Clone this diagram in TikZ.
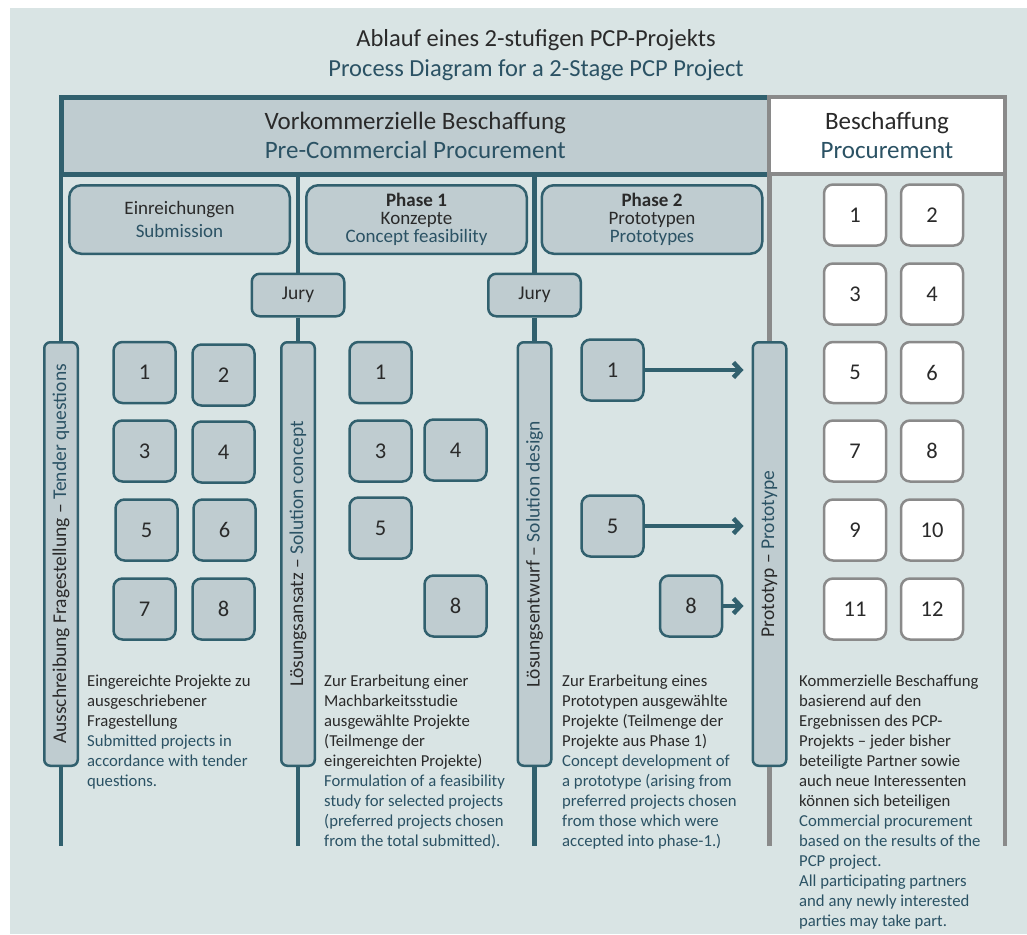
\documentclass[tikz,border=0pt]{standalone}
\usepackage{fontspec}
\setmainfont{Carlito}
\usepackage{graphicx}
\usepackage{xcolor}
\definecolor{PanelBg}{HTML}{D9E4E4}
\definecolor{FrameTeal}{HTML}{31606E}
\definecolor{BoxFill}{HTML}{BFCCD0}
\definecolor{FrameGrey}{HTML}{8A8A8A}
\definecolor{TextDark}{HTML}{2A2A2A}
\definecolor{TextTeal}{HTML}{2B5264}
\newcommand{\entext}{\color{TextTeal}}
\usetikzlibrary{arrows.meta, positioning}
\tikzset{
  % Box styles
  headbox/.style={rectangle, draw=FrameTeal, line width=5pt, fill=BoxFill, outer sep=0pt, minimum width=707.5pt, minimum height=77pt, align=center, text=TextDark, font=\fontsize{25}{29}\selectfont},
  procheadbox/.style={rectangle, draw=FrameGrey, line width=4pt, fill=white, outer sep=0pt, minimum width=236pt, minimum height=77pt, align=center, text=TextDark, font=\fontsize{25}{29}\selectfont},
  phasebox/.style={rectangle, rounded corners=12pt, draw=FrameTeal, line width=2.5pt, fill=BoxFill, minimum width=220.5pt, minimum height=68.5pt, align=center, text=TextDark, font=\fontsize{19}{18}\selectfont},
  jurybox/.style={rectangle, rounded corners=8pt, draw=FrameTeal, line width=2.5pt, fill=BoxFill, minimum width=92.5pt, minimum height=42.5pt, text=TextDark, font=\fontsize{19.5}{22}\selectfont},
  barbox/.style={rectangle, rounded corners=6pt, draw=FrameTeal, line width=2.5pt, fill=BoxFill, minimum width=33.5pt, minimum height=423.5pt, inner sep=0pt, text=TextDark, font=\fontsize{19.5}{22}\selectfont},
  numbox/.style={rectangle, rounded corners=9pt, draw=FrameTeal, line width=2.5pt, fill=BoxFill, minimum width=62pt, minimum height=61pt, text=TextDark, font=\fontsize{22.5}{25}\selectfont},
  procbox/.style={numbox, draw=FrameGrey, fill=white},
  notetext/.style={anchor=north west, align=left, inner sep=0pt, text=TextDark, font=\fontsize{16.7}{20}\selectfont},
  titletext/.style={align=center, text=TextDark, font=\fontsize{24.5}{30}\selectfont},
  % Line styles
  trunk/.style={draw=FrameTeal, line width=4.5pt},
  greytrunk/.style={draw=FrameGrey, line width=4.5pt},
  flowarrow/.style={-{Straight Barb[length=7pt, width=15pt]}, draw=FrameTeal, line width=4.5pt}
}

\begin{document}
\begin{tikzpicture}[x=1pt, y=-1pt]
  \useasboundingbox (0,0) rectangle (1027,934);
  % Panel background
  \fill[PanelBg] (10,8) rectangle (1027,934);

  % Title
  \node[titletext] (title) at (536,55) {Ablauf eines 2-stufigen PCP-Projekts\\\entext Process Diagram for a 2-Stage PCP Project};

  % Header bar
  \node[headbox] (pcp) at (415.25,135.5) {Vorkommerzielle Beschaffung\\\entext Pre-Commercial Procurement};
  \node[procheadbox] (proc) at (887,135.5) {Beschaffung\\\entext Procurement};

  % Phase headers
  \node[phasebox, font=\fontsize{19}{23}\selectfont] (submit) at (179.5,219.5) {Einreichungen\\\entext Submission};
  \node[phasebox] (phaseone) at (416.5,219.5) {\textbf{Phase 1}\\Konzepte\\\entext Concept feasibility};
  \node[phasebox] (phasetwo) at (652,219.5) {\textbf{Phase 2}\\Prototypen\\\entext Prototypes};

  % Jury
  \node[jurybox] (juryone) at (298,295) {Jury};
  \node[jurybox] (jurytwo) at (534.5,295) {Jury};

  % Stage bars
  \node[barbox] (tender) at (61,554) {\rotatebox{90}{Ausschreibung Fragestellung -- \entext Tender questions}};
  \node[barbox] (concept) at (298,554) {\rotatebox{90}{Lösungsansatz -- \entext Solution concept}};
  \node[barbox] (design) at (534.5,554) {\rotatebox{90}{Lösungsentwurf -- \entext Solution design}};
  \node[barbox] (proto) at (769.5,554) {\rotatebox{90}{Prototyp -- \entext Prototype}};

  % Frame lines
  \coordinate (base) at (0,846);
  \draw[trunk] (tender.north |- pcp.south) -- (tender.north);
  \draw[trunk] (tender.south) -- (tender.south |- base);
  \draw[trunk] (juryone.north |- pcp.south) -- (juryone.north);
  \draw[trunk] (juryone.south) -- (concept.north);
  \draw[trunk] (concept.south) -- (concept.south |- base);
  \draw[trunk] (jurytwo.north |- pcp.south) -- (jurytwo.north);
  \draw[trunk] (jurytwo.south) -- (design.north);
  \draw[trunk] (design.south) -- (design.south |- base);
  \draw[greytrunk] (proto.north |- proc.south) -- (proto.north);
  \draw[greytrunk] (proto.south) -- (proto.south |- base);
  \draw[greytrunk] (proc.south east) -- (proc.south east |- base);

  % Submitted projects
  \node[numbox] (s1) at (144.5,372.5) {1};
  \node[numbox] (s2) at (223.5,375) {2};
  \node[numbox] (s3) at (144.5,451) {3};
  \node[numbox] (s4) at (223.5,452) {4};
  \node[numbox] (s5) at (146.5,530) {5};
  \node[numbox] (s6) at (224.5,530) {6};
  \node[numbox] (s7) at (144.5,609) {7};
  \node[numbox] (s8) at (223.5,609) {8};

  % Phase 1 projects
  \node[numbox] (c1) at (380.5,372.5) {1};
  \node[numbox] (c3) at (380.5,451) {3};
  \node[numbox] (c4) at (455.5,450) {4};
  \node[numbox] (c5) at (380.5,528) {5};
  \node[numbox] (c8) at (455.5,606) {8};

  % Phase 2 projects
  \node[numbox] (d1) at (612.5,370) {1};
  \node[numbox] (d5) at (612.5,526) {5};
  \node[numbox] (d8) at (691,606) {8};
  \draw[flowarrow, shorten >=8pt] (d1.east) -- (d1.east -| proto.west);
  \draw[flowarrow, shorten >=8pt] (d5.east) -- (d5.east -| proto.west);
  \draw[flowarrow, shorten >=8pt] (d8.east) -- (d8.east -| proto.west);

  % Procurement
  \node[procbox] (p1) at (855,215) {1};
  \node[procbox] (p2) at (932,215) {2};
  \node[procbox] (p3) at (855,294) {3};
  \node[procbox] (p4) at (932,294) {4};
  \node[procbox] (p5) at (855,372.5) {5};
  \node[procbox] (p6) at (932,372.5) {6};
  \node[procbox] (p7) at (855,451) {7};
  \node[procbox] (p8) at (932,451) {8};
  \node[procbox] (p9) at (855,530) {9};
  \node[procbox] (p10) at (932,530) {10};
  \node[procbox] (p11) at (855,609) {11};
  \node[procbox] (p12) at (932,609) {12};

  % Notes
  \node[notetext] (subnote) at (87,675) {Eingereichte Projekte zu\\ausgeschriebener\\Fragestellung\\\entext Submitted projects in\\\entext accordance with tender\\\entext questions.};
  \node[notetext] (conceptnote) at (324,675) {Zur Erarbeitung einer\\Machbarkeitsstudie\\ausgewählte Projekte\\(Teilmenge der\\eingereichten Projekte)\\\entext Formulation of a feasibility\\\entext study for selected projects\\\entext (preferred projects chosen\\\entext from the total submitted).};
  \node[notetext] (designnote) at (562,675) {Zur Erarbeitung eines\\Prototypen ausgewählte\\Projekte (Teilmenge der\\Projekte aus Phase 1)\\\entext Concept development of\\\entext a prototype (arising from\\\entext preferred projects chosen\\\entext from those which were\\\entext accepted into phase-1.)};
  \node[notetext] (procnote) at (799,675) {Kommerzielle Beschaffung\\basierend auf den\\Ergebnissen des PCP-\\Projekts -- jeder bisher\\beteiligte Partner sowie\\auch neue Interessenten\\können sich beteiligen\\\entext Commercial procurement\\\entext based on the results of the\\\entext PCP project.\\\entext All participating partners\\\entext and any newly interested\\\entext parties may take part.};
\end{tikzpicture}
\end{document}
